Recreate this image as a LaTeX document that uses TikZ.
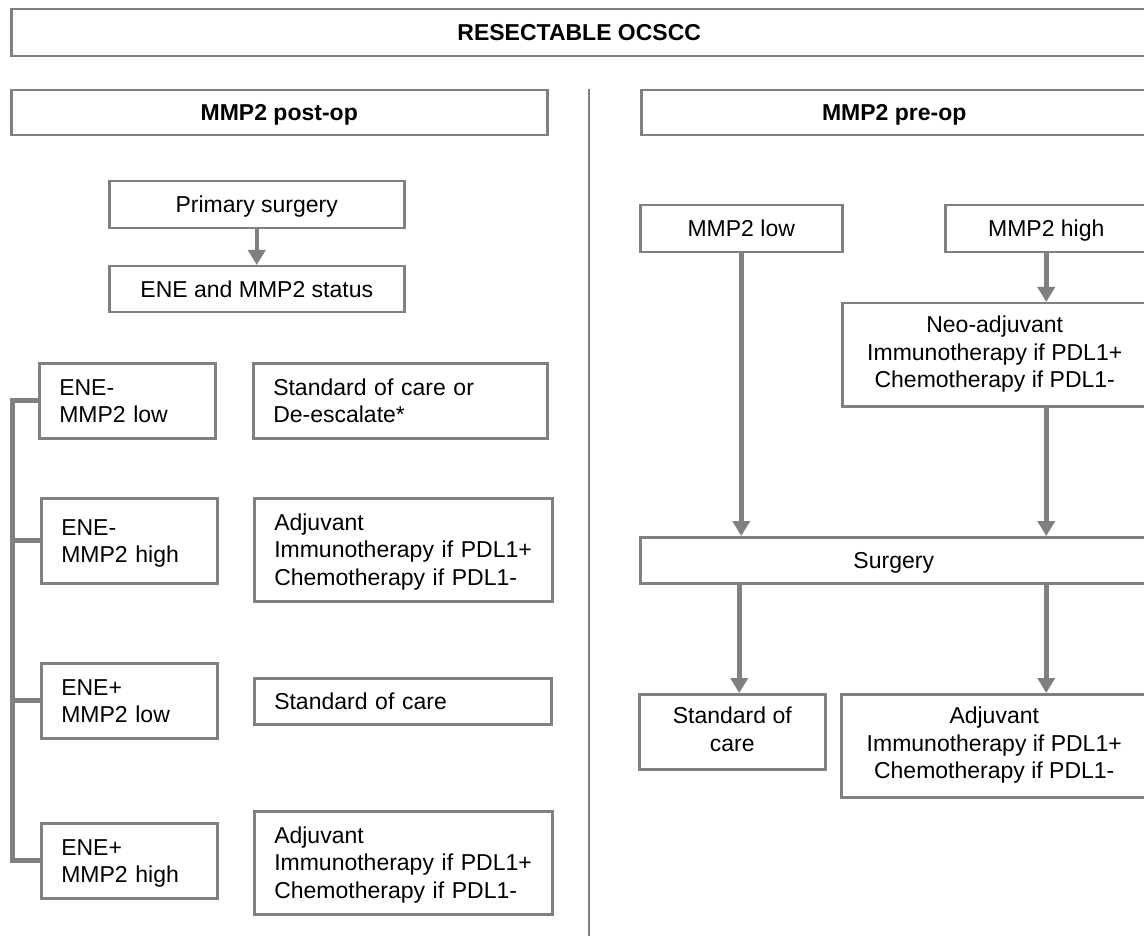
\documentclass[tikz,border=0pt]{standalone}
\usepackage{fontspec}
\setmainfont{Liberation Sans}
\usepackage{xcolor}
\usetikzlibrary{arrows.meta,positioning}
\definecolor{boxgray}{RGB}{128,128,128}
\newcommand{\boxfont}{\fontsize{23}{27.6}\selectfont}
\newcommand{\boxstrut}{\rule[-5.6pt]{0pt}{27.6pt}}

\begin{document}
\begin{tikzpicture}[
x=1pt,y=-1pt,
box/.style={draw=boxgray,line width=2.5pt,fill=white,font=\boxfont,anchor=north west,inner xsep=20pt,inner ysep=0pt,
  execute at begin node=\boxstrut,execute at end node=\boxstrut},
lbox/.style 2 args={box,align=left,text width=#1,minimum height=#2},
cbox/.style 2 args={box,align=center,minimum width=#1,minimum height=#2},
head/.style={font=\boxfont\bfseries},
arrow/.style={-{Triangle[length=15pt,width=17pt]},line width=4.5pt,draw=boxgray},
bracket/.style={line width=5pt,draw=boxgray},
divider/.style={line width=2.5pt,draw=boxgray}
]
\useasboundingbox (0,0) rectangle (1144,936);
\clip (0,0) rectangle (1144,936);
\fill[white] (0,0) rectangle (1144,936);
% headings
\node[cbox={1136pt}{47pt},head] (title) at (10,8) {RESECTABLE OCSCC};
\node[cbox={536pt}{45pt},head] (postop) at (10,89) {MMP2 post-op};
\node[cbox={506pt}{45pt},head] (preop) at (640,89) {MMP2 pre-op};
\draw[divider] (589,89) -- (589,936);
% post-op side
\node[cbox={295pt}{47pt}] (primary) at (108,180) {Primary surgery};
\node[cbox={295pt}{46pt}] (status) at (108,265) {ENE and MMP2 status};
\node[lbox={136pt}{75pt}] (g1) at (38,362) {ENE-\\MMP2 low};
\node[lbox={136pt}{85pt}] (g2) at (40,497) {ENE-\\MMP2 high};
\node[lbox={136pt}{75pt}] (g3) at (40,662) {ENE+\\MMP2 low};
\node[lbox={136pt}{75pt}] (g4) at (40,822) {ENE+\\MMP2 high};
\node[lbox={254pt}{75pt}] (t1) at (252,362) {Standard of care or\\De-escalate*};
\node[lbox={258pt}{103pt}] (t2) at (253,497) {Adjuvant\\Immunotherapy if PDL1+\\Chemotherapy if PDL1-};
\node[lbox={257pt}{46pt}] (t3) at (253,677) {Standard of care};
\node[lbox={258pt}{103pt}] (t4) at (253,810) {Adjuvant\\Immunotherapy if PDL1+\\Chemotherapy if PDL1-};
\draw[arrow] (primary) -- (status);
\draw[bracket] (g1.west) -- ++(-26,0) coordinate (btop) |- (g4.west);
\foreach \g in {g2,g3}
  \draw[bracket] (\g.west) -- (\g.west -| btop);
% pre-op side
\node[cbox={202pt}{47pt}] (mlow) at (639,204) {MMP2 low};
\node[cbox={202pt}{47pt}] (mhigh) at (944,204) {MMP2 high};
\node[cbox={305pt}{103pt}] (neo) at (841,302) {Neo-adjuvant\\Immunotherapy if PDL1+\\Chemotherapy if PDL1-};
\node[cbox={507pt}{46pt}] (surg) at (639,536) {Surgery};
\node[cbox={186pt}{75pt}] (soc) at (638,693) {Standard of\\care};
\node[cbox={306pt}{103pt}] (adj) at (840,693) {Adjuvant\\Immunotherapy if PDL1+\\Chemotherapy if PDL1-};
\draw[arrow] (mlow.south) -- (mlow.south |- surg.north);
\draw[arrow] (mhigh.south) -- (mhigh.south |- neo.north);
\draw[arrow] (mhigh.south |- neo.south) -- (mhigh.south |- surg.north);
\draw[arrow] ([xshift=-2pt]mlow.south |- surg.south) -- ([xshift=-2pt]mlow.south |- soc.north);
\draw[arrow] (mhigh.south |- surg.south) -- (mhigh.south |- adj.north);
\end{tikzpicture}
\end{document}
